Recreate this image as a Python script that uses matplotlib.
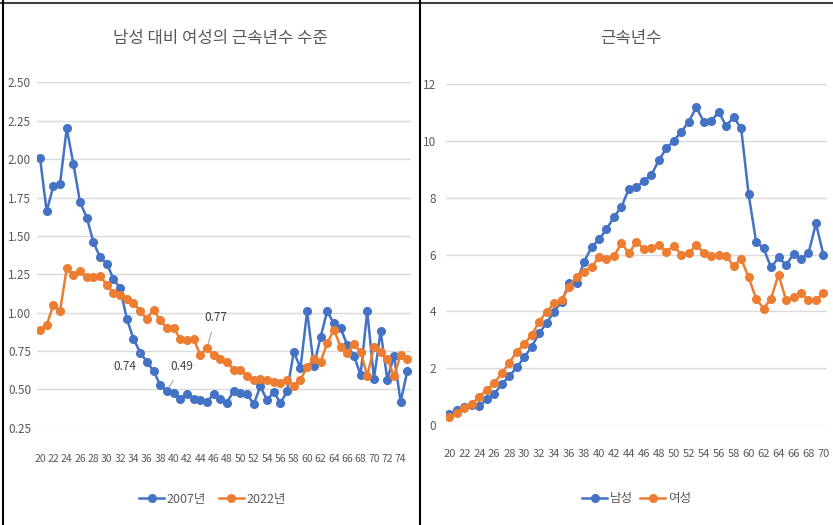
import numpy as np
import matplotlib
matplotlib.use("Agg")
import matplotlib.pyplot as plt
from matplotlib.lines import Line2D

plt.rcParams['font.family'] = ['Noto Sans CJK KR', 'DejaVu Sans']

# 왼쪽: 남성 대비 여성의 근속년수 수준
ages_l = list(range(20, 76))
ratio_2007 = [2.01, 1.66, 1.825, 1.84, 2.20, 1.97, 1.72, 1.62, 1.46, 1.36,
              1.32, 1.22, 1.16, 0.96, 0.83, 0.74, 0.68, 0.62, 0.53, 0.49,
              0.475, 0.44, 0.47, 0.44, 0.43, 0.42, 0.47, 0.44, 0.415, 0.49,
              0.475, 0.47, 0.405, 0.52, 0.43, 0.485, 0.41, 0.49, 0.745, 0.64,
              1.01, 0.65, 0.84, 1.01, 0.93, 0.90, 0.79, 0.72, 0.595, 1.01,
              0.57, 0.88, 0.565, 0.72, 0.42, 0.62]
ratio_2022 = [0.89, 0.92, 1.05, 1.01, 1.29, 1.245, 1.27, 1.23, 1.235, 1.24,
              1.18, 1.13, 1.115, 1.09, 1.065, 1.01, 0.96, 1.02, 0.95, 0.90,
              0.90, 0.83, 0.82, 0.83, 0.725, 0.77, 0.725, 0.70, 0.68, 0.63,
              0.63, 0.59, 0.56, 0.57, 0.56, 0.55, 0.54, 0.565, 0.52, 0.565,
              0.645, 0.70, 0.68, 0.80, 0.89, 0.78, 0.74, 0.795, 0.745, 0.59,
              0.775, 0.745, 0.70, 0.585, 0.725, 0.70]
yticks_l = [0.25, 0.50, 0.75, 1.00, 1.25, 1.50, 1.75, 2.00, 2.25, 2.50]

# 오른쪽: 근속년수
ages_r = list(range(20, 71))
male = [0.39, 0.53, 0.64, 0.70, 0.67, 0.90, 1.09, 1.44, 1.72, 2.03,
        2.38, 2.76, 3.23, 3.60, 3.99, 4.34, 4.99, 5.01, 5.75, 6.26,
        6.54, 6.89, 7.33, 7.68, 8.32, 8.37, 8.60, 8.80, 9.33, 9.74,
        10.01, 10.33, 10.68, 11.19, 10.68, 10.70, 11.03, 10.53, 10.84, 10.45,
        8.13, 6.45, 6.22, 5.55, 5.90, 5.63, 6.02, 5.83, 6.04, 7.10,
        5.99]
female = [0.29, 0.41, 0.59, 0.74, 1.00, 1.23, 1.47, 1.82, 2.19, 2.58,
          2.85, 3.17, 3.64, 3.99, 4.28, 4.40, 4.87, 5.22, 5.40, 5.57,
          5.90, 5.85, 5.95, 6.40, 6.05, 6.45, 6.20, 6.25, 6.35, 6.10,
          6.30, 6.00, 6.05, 6.35, 6.05, 5.95, 6.00, 5.95, 5.60, 5.85,
          5.20, 4.45, 4.10, 4.45, 5.30, 4.40, 4.50, 4.65, 4.40, 4.40,
          4.65]
yticks_r = [0, 2, 4, 6, 8, 10, 12]

BLUE = '#4472C4'
ORANGE = '#ED7D31'
GRID = '#D9D9D9'
TXT = '#595959'

fig = plt.figure(figsize=(8.33, 5.25), dpi=100)

def style(ax):
    for s in ax.spines.values():
        s.set_visible(False)
    ax.grid(axis='y', color=GRID, lw=1)
    ax.set_axisbelow(True)
    ax.tick_params(length=0, colors=TXT, labelsize=8.5)

# left chart
ax1 = fig.add_axes([0.044, 0.185, 0.449, 0.658])
ax1.plot(ages_l, ratio_2007, color=BLUE, lw=1.8, marker='o', ms=5.5, label='2007년')
ax1.plot(ages_l, ratio_2022, color=ORANGE, lw=1.8, marker='o', ms=5.5, label='2022년')
ax1.set_xlim(19.5, 75.5)
ax1.set_ylim(0.25, 2.5)
ax1.set_yticks(yticks_l)
ax1.set_yticklabels([f'{v:.2f}' for v in yticks_l])
ax1.set_xticks(ages_l[::2])
style(ax1)
ax1.tick_params(axis='y', pad=4)
ax1.tick_params(axis='x', pad=19, labelsize=7.5)

# 데이터 레이블
for age, vals, txt, dx, dy in [(35, ratio_2007, '0.74', -2.3, -0.09),
                               (39, ratio_2007, '0.49', 2.2, 0.16),
                               (45, ratio_2022, '0.77', 1.3, 0.2)]:
    v = vals[ages_l.index(age)]
    ax1.annotate(txt, xy=(age, v), xytext=(age + dx, v + dy), fontsize=8.5,
                 color='#404040', ha='center', va='center',
                 arrowprops=dict(arrowstyle='-', color='#A6A6A6', lw=0.8,
                                 shrinkA=4, shrinkB=3))

ax1.legend(loc='upper center', bbox_to_anchor=(0.47, -0.155), ncol=2,
           frameon=False, fontsize=9, handlelength=2, columnspacing=1,
           handletextpad=0.2, labelcolor=TXT)
fig.text(0.265, 0.927, '남성 대비 여성의 근속년수 수준', ha='center', va='center',
         fontsize=12, color=TXT)

# right chart
ax2 = fig.add_axes([0.535, 0.1905, 0.458, 0.649])
ax2.plot(ages_r, male, color=BLUE, lw=1.8, marker='o', ms=5.5, label='남성')
ax2.plot(ages_r, female, color=ORANGE, lw=1.8, marker='o', ms=5.5, label='여성')
ax2.set_xlim(19.5, 70.5)
ax2.set_ylim(0, 12)
ax2.set_yticks(yticks_r)
ax2.set_xticks(ages_r[::2])
style(ax2)
ax2.tick_params(axis='y', pad=7)
ax2.tick_params(axis='x', pad=17, labelsize=8)
ax2.legend(loc='upper center', bbox_to_anchor=(0.5, -0.165), ncol=2,
           frameon=False, fontsize=9, handlelength=2, columnspacing=0.6,
           handletextpad=0.2, labelcolor=TXT)
fig.text(0.757, 0.927, '근속년수', ha='center', va='center', fontsize=12, color=TXT)

# panel borders
fig.add_artist(Line2D([0, 1], [0.994, 0.994], color='#404040', lw=1.5))
fig.add_artist(Line2D([0.004, 0.004], [0, 1], color='black', lw=1.5))
fig.add_artist(Line2D([0.5045, 0.5045], [0, 1], color='black', lw=1.5))

fig.savefig('out.png', dpi=100)
